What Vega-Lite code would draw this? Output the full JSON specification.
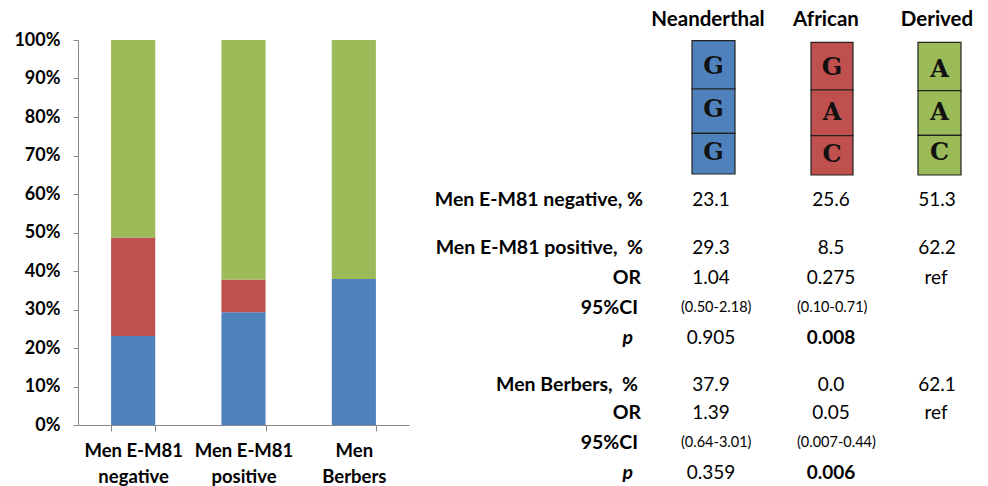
{
  "$schema": "https://vega.github.io/schema/vega-lite/v6.json",
  "autosize": {"type": "none"},
  "padding": {"left": 78, "top": 40, "right": 0, "bottom": 61},
  "width": 910,
  "height": 385,
  "config": {
    "font": "Lato",
    "view": {"stroke": null},
    "axis": {"grid": false, "domainColor": "#888888", "tickColor": "#888888", "labelColor": "#000000", "labelFont": "Lato", "labelFontWeight": "bold", "labelFontSize": 18}
  },
  "datasets": {
    "bars": [
      {"group": "Men E-M81 negative", "allele": "Neanderthal", "pct": 23.1, "ord": 1},
      {"group": "Men E-M81 negative", "allele": "African", "pct": 25.6, "ord": 2},
      {"group": "Men E-M81 negative", "allele": "Derived", "pct": 51.3, "ord": 3},
      {"group": "Men E-M81 positive", "allele": "Neanderthal", "pct": 29.3, "ord": 1},
      {"group": "Men E-M81 positive", "allele": "African", "pct": 8.5, "ord": 2},
      {"group": "Men E-M81 positive", "allele": "Derived", "pct": 62.2, "ord": 3},
      {"group": "Men Berbers", "allele": "Neanderthal", "pct": 37.9, "ord": 1},
      {"group": "Men Berbers", "allele": "African", "pct": 0.0, "ord": 2},
      {"group": "Men Berbers", "allele": "Derived", "pct": 62.1, "ord": 3}
    ],
    "cells": [
      {"allele": "Neanderthal", "base": "G", "x1": 69.2, "x2": 73.5, "y1": 4.07, "y2": 8.9, "ty": 6.7},
      {"allele": "Neanderthal", "base": "G", "x1": 69.2, "x2": 73.5, "y1": 8.9, "y2": 13.33, "ty": 11.0},
      {"allele": "Neanderthal", "base": "G", "x1": 69.2, "x2": 73.5, "y1": 13.33, "y2": 17.4, "ty": 15.3},
      {"allele": "African", "base": "G", "x1": 81.1, "x2": 85.3, "y1": 4.23, "y2": 9.0, "ty": 6.8},
      {"allele": "African", "base": "A", "x1": 81.1, "x2": 85.3, "y1": 9.0, "y2": 13.57, "ty": 11.3},
      {"allele": "African", "base": "C", "x1": 81.1, "x2": 85.3, "y1": 13.57, "y2": 17.5, "ty": 15.5},
      {"allele": "Derived", "base": "A", "x1": 91.8, "x2": 96.1, "y1": 4.23, "y2": 9.07, "ty": 7.0},
      {"allele": "Derived", "base": "A", "x1": 91.8, "x2": 96.1, "y1": 9.07, "y2": 13.53, "ty": 11.3},
      {"allele": "Derived", "base": "C", "x1": 91.8, "x2": 96.1, "y1": 13.53, "y2": 17.5, "ty": 15.3}
    ],
    "table": [
      {"kind": "head", "text": "Neanderthal", "x": 70.8, "y": 2.0},
      {"kind": "head", "text": "African", "x": 82.6, "y": 2.0},
      {"kind": "head", "text": "Derived", "x": 93.7, "y": 2.0},
      {"kind": "label", "text": "Men E-M81 negative, %", "x": 64.3, "y": 20.0},
      {"kind": "label", "text": "Men E-M81 positive,\u00a0 %", "x": 64.3, "y": 24.8},
      {"kind": "label", "text": "OR", "x": 64.1, "y": 27.8},
      {"kind": "label", "text": "95%CI", "x": 63.8, "y": 30.8},
      {"kind": "plabel", "text": "p", "x": 63.3, "y": 33.8},
      {"kind": "label", "text": "Men Berbers,\u00a0 %", "x": 63.8, "y": 38.5},
      {"kind": "label", "text": "OR", "x": 64.1, "y": 41.3},
      {"kind": "label", "text": "95%CI", "x": 63.8, "y": 44.3},
      {"kind": "plabel", "text": "p", "x": 63.3, "y": 47.3},
      {"kind": "value", "text": "23.1", "x": 71.1, "y": 20.0},
      {"kind": "value", "text": "25.6", "x": 83.1, "y": 20.0},
      {"kind": "value", "text": "51.3", "x": 93.7, "y": 20.0},
      {"kind": "value", "text": "29.3", "x": 71.1, "y": 24.8},
      {"kind": "value", "text": "8.5", "x": 83.1, "y": 24.8},
      {"kind": "value", "text": "62.2", "x": 93.7, "y": 24.8},
      {"kind": "value", "text": "1.04", "x": 71.1, "y": 27.8},
      {"kind": "value", "text": "0.275", "x": 83.1, "y": 27.8},
      {"kind": "value", "text": "ref", "x": 93.6, "y": 27.8},
      {"kind": "ci", "text": "(0.50-2.18)", "x": 68.1, "y": 30.8},
      {"kind": "ci", "text": "(0.10-0.71)", "x": 79.7, "y": 30.8},
      {"kind": "value", "text": "0.905", "x": 71.1, "y": 33.8},
      {"kind": "boldvalue", "text": "0.008", "x": 83.1, "y": 33.8},
      {"kind": "value", "text": "37.9", "x": 71.1, "y": 38.5},
      {"kind": "value", "text": "0.0", "x": 83.1, "y": 38.5},
      {"kind": "value", "text": "62.1", "x": 93.7, "y": 38.5},
      {"kind": "value", "text": "1.39", "x": 71.1, "y": 41.3},
      {"kind": "value", "text": "0.05", "x": 83.1, "y": 41.3},
      {"kind": "value", "text": "ref", "x": 93.6, "y": 41.3},
      {"kind": "ci", "text": "(0.64-3.01)", "x": 68.1, "y": 44.3},
      {"kind": "ci", "text": "(0.007-0.44)", "x": 79.7, "y": 44.3},
      {"kind": "value", "text": "0.359", "x": 71.1, "y": 47.3},
      {"kind": "boldvalue", "text": "0.006", "x": 83.1, "y": 47.3}
    ]
  },
  "resolve": {"scale": {"x": "independent", "y": "independent"}},
  "layer": [
    {
      "data": {"name": "bars"},
      "mark": {"type": "bar"},
      "encoding": {
        "x": {
          "field": "group", "type": "nominal",
          "sort": ["Men E-M81 negative", "Men E-M81 positive", "Men Berbers"],
          "scale": {"range": [0, 331], "paddingInner": 0.6, "paddingOuter": 0.3},
          "axis": {
            "title": null, "labelAngle": 0, "tickSize": 6, "tickBand": "extent", "labelPadding": 10, "labelLineHeight": 26, "labelFontSize": 18.5,
            "labelExpr": "datum.value == 'Men Berbers' ? ['Men', 'Berbers'] : datum.value == 'Men E-M81 negative' ? ['Men E-M81', 'negative'] : datum.value == 'Men E-M81 positive' ? ['Men E-M81', 'positive'] : ''"
          }
        },
        "y": {
          "field": "pct", "type": "quantitative", "stack": "normalize",
          "scale": {"domain": [0, 1]},
          "axis": {"title": null, "values": [0, 0.1, 0.2, 0.3, 0.4, 0.5, 0.6, 0.7, 0.8, 0.9, 1], "format": ".0%", "tickSize": 5, "labelPadding": 13}
        },
        "color": {
          "field": "allele", "type": "nominal",
          "scale": {"domain": ["Neanderthal", "African", "Derived"], "range": ["#4F81BD", "#C0504D", "#9BBB59"]},
          "legend": null
        },
        "order": {"field": "ord", "type": "quantitative"}
      }
    },
    {
      "layer": [
        {
          "data": {"name": "cells"},
          "mark": {"type": "rect", "stroke": "#222222", "strokeWidth": 1.2},
          "encoding": {
            "x": {"field": "x1", "type": "quantitative", "scale": {"domain": [0, 98.8], "range": [-78, 910]}, "axis": null},
            "x2": {"field": "x2"},
            "y": {"field": "y1", "type": "quantitative", "scale": {"domain": [0, 48.6], "range": [-40, 446]}, "axis": null},
            "y2": {"field": "y2"},
            "color": {"field": "allele", "type": "nominal", "legend": null}
          }
        },
        {
          "data": {"name": "cells"},
          "transform": [{"calculate": "(datum.x1 + datum.x2) / 2", "as": "cx"}],
          "mark": {"type": "text", "font": "DejaVu Serif", "fontWeight": "bold", "fontSize": 24, "baseline": "middle", "align": "center", "color": "#111111"},
          "encoding": {
            "x": {"field": "cx", "type": "quantitative", "scale": {"domain": [0, 98.8], "range": [-78, 910]}, "axis": null},
            "y": {"field": "ty", "type": "quantitative", "scale": {"domain": [0, 48.6], "range": [-40, 446]}, "axis": null},
            "text": {"field": "base"}
          }
        },
        {
          "data": {"name": "table"},
          "transform": [{"filter": "datum.kind == 'head'"}],
          "mark": {"type": "text", "fontWeight": "bold", "fontSize": 20.5, "baseline": "middle", "align": "center", "color": "#000000"},
          "encoding": {
            "x": {"field": "x", "type": "quantitative", "scale": {"domain": [0, 98.8], "range": [-78, 910]}, "axis": null},
            "y": {"field": "y", "type": "quantitative", "scale": {"domain": [0, 48.6], "range": [-40, 446]}, "axis": null},
            "text": {"field": "text"}
          }
        },
        {
          "data": {"name": "table"},
          "transform": [{"filter": "datum.kind == 'label'"}],
          "mark": {"type": "text", "fontWeight": "bold", "fontSize": 19.5, "baseline": "middle", "align": "right", "color": "#000000"},
          "encoding": {
            "x": {"field": "x", "type": "quantitative", "scale": {"domain": [0, 98.8], "range": [-78, 910]}, "axis": null},
            "y": {"field": "y", "type": "quantitative", "scale": {"domain": [0, 48.6], "range": [-40, 446]}, "axis": null},
            "text": {"field": "text"}
          }
        },
        {
          "data": {"name": "table"},
          "transform": [{"filter": "datum.kind == 'plabel'"}],
          "mark": {"type": "text", "fontWeight": "bold", "fontStyle": "italic", "fontSize": 19.5, "baseline": "middle", "align": "right", "color": "#000000"},
          "encoding": {
            "x": {"field": "x", "type": "quantitative", "scale": {"domain": [0, 98.8], "range": [-78, 910]}, "axis": null},
            "y": {"field": "y", "type": "quantitative", "scale": {"domain": [0, 48.6], "range": [-40, 446]}, "axis": null},
            "text": {"field": "text"}
          }
        },
        {
          "data": {"name": "table"},
          "transform": [{"filter": "datum.kind == 'value'"}],
          "mark": {"type": "text", "fontSize": 19, "baseline": "middle", "align": "center", "color": "#000000"},
          "encoding": {
            "x": {"field": "x", "type": "quantitative", "scale": {"domain": [0, 98.8], "range": [-78, 910]}, "axis": null},
            "y": {"field": "y", "type": "quantitative", "scale": {"domain": [0, 48.6], "range": [-40, 446]}, "axis": null},
            "text": {"field": "text"}
          }
        },
        {
          "data": {"name": "table"},
          "transform": [{"filter": "datum.kind == 'boldvalue'"}],
          "mark": {"type": "text", "fontSize": 19, "fontWeight": "bold", "baseline": "middle", "align": "center", "color": "#000000"},
          "encoding": {
            "x": {"field": "x", "type": "quantitative", "scale": {"domain": [0, 98.8], "range": [-78, 910]}, "axis": null},
            "y": {"field": "y", "type": "quantitative", "scale": {"domain": [0, 48.6], "range": [-40, 446]}, "axis": null},
            "text": {"field": "text"}
          }
        },
        {
          "data": {"name": "table"},
          "transform": [{"filter": "datum.kind == 'ci'"}],
          "mark": {"type": "text", "fontSize": 14.5, "baseline": "middle", "align": "left", "color": "#000000"},
          "encoding": {
            "x": {"field": "x", "type": "quantitative", "scale": {"domain": [0, 98.8], "range": [-78, 910]}, "axis": null},
            "y": {"field": "y", "type": "quantitative", "scale": {"domain": [0, 48.6], "range": [-40, 446]}, "axis": null},
            "text": {"field": "text"}
          }
        }
      ]
    }
  ]
}
